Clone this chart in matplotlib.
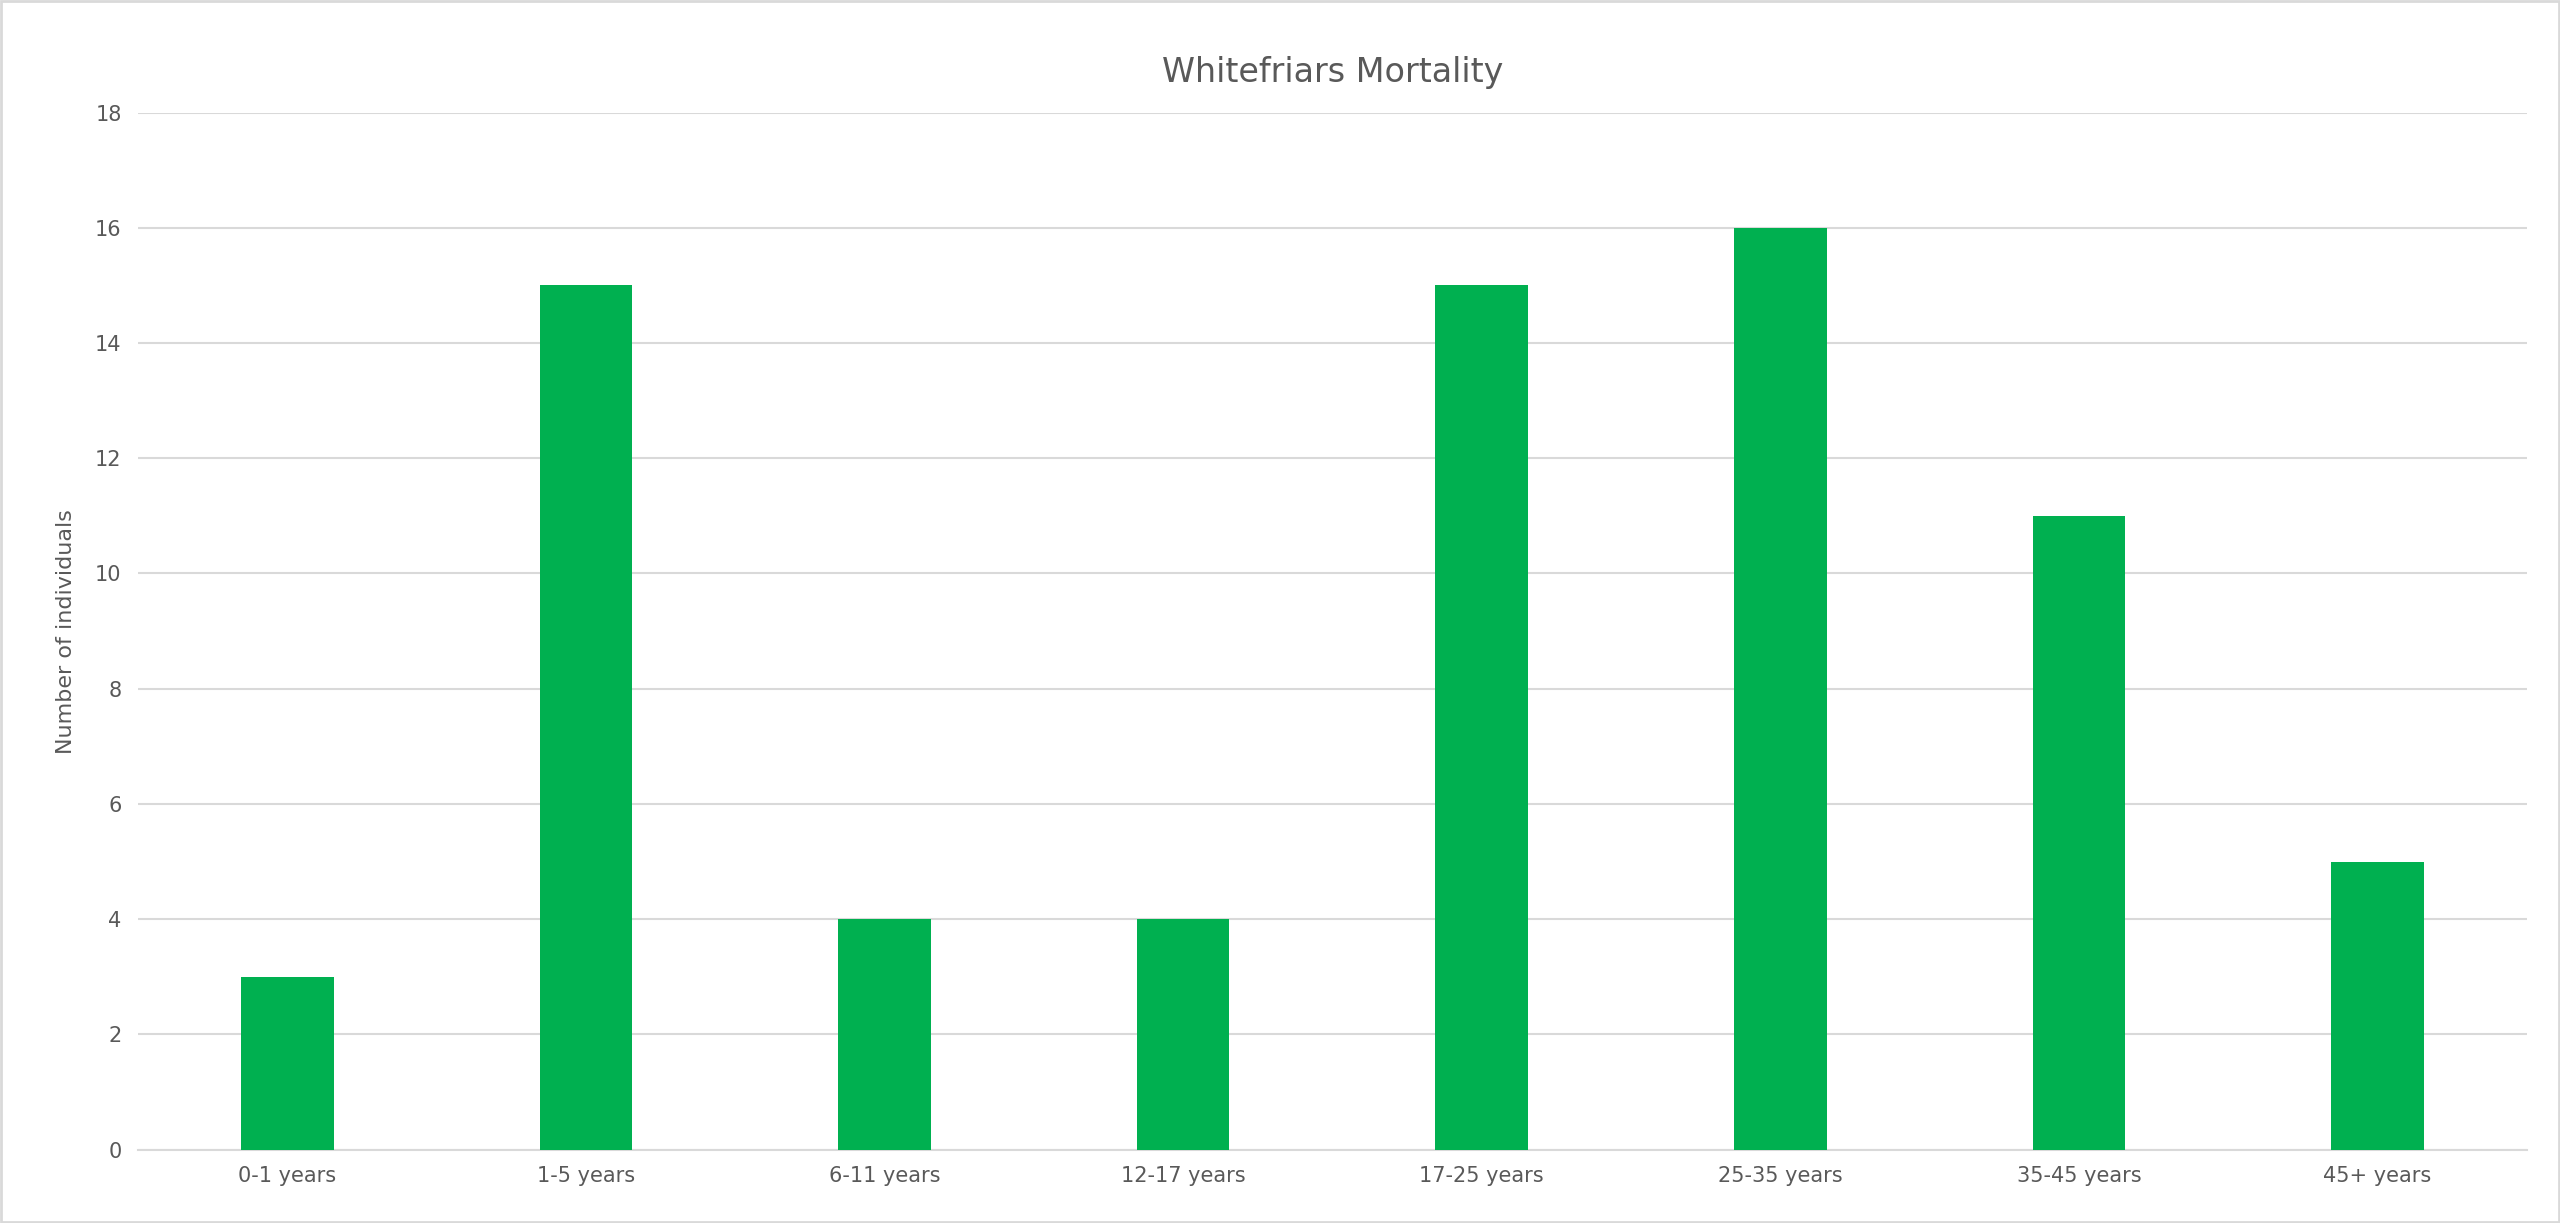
import matplotlib.pyplot as plt
import numpy as np

categories = ["0-1 years", "1-5 years", "6-11 years", "12-17 years",
              "17-25 years", "25-35 years", "35-45 years", "45+ years"]
counts = [3, 15, 4, 4, 15, 16, 11, 5]

fig = plt.figure(figsize=(25.6, 12.23), dpi=100)
ax = fig.add_axes([0.054, 0.06, 0.933, 0.848])

x = np.arange(len(categories))
ax.bar(x, counts, width=0.31, color="#00B050", zorder=3)

ax.set_xlim(-0.5, len(categories) - 0.5)
ax.set_ylim(0, 18)
ax.set_yticks(range(0, 19, 2))
ax.set_xticks(x)
ax.set_xticklabels(categories)
ax.grid(axis="y", color="#D9D9D9", linewidth=1.5, zorder=0)
for s in ["top", "right", "left"]:
    ax.spines[s].set_visible(False)
ax.spines["bottom"].set_color("#D9D9D9")
ax.spines["bottom"].set_linewidth(1.5)
ax.tick_params(length=0, labelsize=15, colors="#595959", pad=12)
ax.set_ylabel("Number of individuals", fontsize=16, color="#595959", labelpad=14)
ax.set_title("Whitefriars Mortality", fontsize=24, color="#595959", pad=22)

fig.patches.append(plt.Rectangle((0.0005, 0.001), 0.999, 0.998, transform=fig.transFigure,
                                 fill=False, edgecolor="#D9D9D9", linewidth=2))

fig.savefig("out.png")
